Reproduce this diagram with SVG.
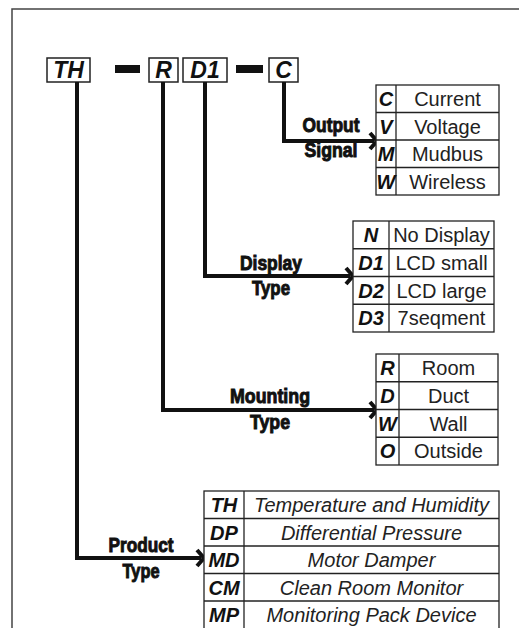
<svg xmlns="http://www.w3.org/2000/svg" width="519" height="628" viewBox="0 0 519 628">
<defs>
<style>
.frame{fill:none;stroke:#444;stroke-width:1.5}
.hbox{fill:#fff;stroke:#222;stroke-width:1.5}
.bar{fill:#111}
.htxt{font-family:"Liberation Sans",Arial,sans-serif;font-weight:bold;font-style:italic;font-size:23px;fill:#111;text-anchor:middle}
.conn{fill:none;stroke:#111;stroke-width:4;stroke-linejoin:miter}
.head{fill:none;stroke:#111;stroke-width:4;stroke-linecap:butt}
.tbl{fill:#fff;stroke:#222;stroke-width:1.3}
.tl{stroke:#222;stroke-width:1.3}
.code{font-family:"Liberation Sans",Arial,sans-serif;font-weight:bold;font-style:italic;font-size:20px;fill:#111;text-anchor:middle}
.val{font-family:"Liberation Sans",Arial,sans-serif;font-size:20px;fill:#222;text-anchor:middle}
.vali{font-family:"Liberation Sans",Arial,sans-serif;font-style:italic;font-size:20px;fill:#222;text-anchor:middle}
.lab{font-family:"Liberation Sans Narrow","Liberation Sans",sans-serif;font-weight:bold;font-size:21px;fill:#111;stroke:#111;stroke-width:1;text-anchor:middle}
</style>
</defs>
<rect width="519" height="628" fill="#fff"/>
<path class="frame" d="M12,640 L12,9 L530,9"/>

<g id="code-header">
<rect class="hbox" x="47" y="58" width="43" height="24"/>
<text class="htxt" x="68.5" y="78">TH</text>
<rect class="bar" x="115" y="65" width="25" height="8"/>
<rect class="hbox" x="149" y="58" width="29" height="24"/>
<text class="htxt" x="163.5" y="78">R</text>
<rect class="hbox" x="183" y="58" width="44" height="24"/>
<text class="htxt" x="205" y="78">D1</text>
<rect class="bar" x="236" y="65" width="27" height="8"/>
<rect class="hbox" x="269" y="58" width="29" height="24"/>
<text class="htxt" x="283.5" y="78" font-style="normal">C</text>
</g>

<g id="connectors">
<polyline class="conn" points="284,82 284,141 374,141"/>
<polyline class="head" points="370,133 377,141 370,149"/>
<polyline class="conn" points="205,82 205,276 350,276"/>
<polyline class="head" points="346,268 353,276 346,284"/>
<polyline class="conn" points="163,82 163,410 374,410"/>
<polyline class="head" points="370,402 377,410 370,418"/>
<polyline class="conn" points="77,82 77,558 201,558"/>
<polyline class="head" points="197,550 204,558 197,566"/>
</g>

<g id="output-signal">
<text class="lab" x="331" y="132" textLength="57" lengthAdjust="spacingAndGlyphs">Output</text>
<text class="lab" x="331" y="157" textLength="53" lengthAdjust="spacingAndGlyphs">Signal</text>
<rect class="tbl" x="376" y="85" width="123" height="110"/>
<line class="tl" x1="396" y1="85" x2="396" y2="195"/>
<line class="tl" x1="376" y1="112.5" x2="499" y2="112.5"/>
<line class="tl" x1="376" y1="140" x2="499" y2="140"/>
<line class="tl" x1="376" y1="167.5" x2="499" y2="167.5"/>
<text class="code" x="386" y="106">C</text><text class="val" x="447.5" y="106">Current</text>
<text class="code" x="386" y="133.5">V</text><text class="val" x="447.5" y="133.5">Voltage</text>
<text class="code" x="386" y="161">M</text><text class="val" x="447.5" y="161">Mudbus</text>
<text class="code" x="386" y="188.5">W</text><text class="val" x="447.5" y="188.5">Wireless</text>
</g>

<g id="display-type">
<text class="lab" x="271" y="270" textLength="62" lengthAdjust="spacingAndGlyphs">Display</text>
<text class="lab" x="271" y="295" textLength="38" lengthAdjust="spacingAndGlyphs">Type</text>
<rect class="tbl" x="353" y="221" width="141" height="111"/>
<line class="tl" x1="389" y1="221" x2="389" y2="332"/>
<line class="tl" x1="353" y1="248.75" x2="494" y2="248.75"/>
<line class="tl" x1="353" y1="276.5" x2="494" y2="276.5"/>
<line class="tl" x1="353" y1="304.25" x2="494" y2="304.25"/>
<text class="code" x="371" y="242">N</text><text class="val" x="441.5" y="242">No Display</text>
<text class="code" x="371" y="270">D1</text><text class="val" x="441.5" y="270">LCD small</text>
<text class="code" x="371" y="297.5">D2</text><text class="val" x="441.5" y="297.5">LCD large</text>
<text class="code" x="371" y="325">D3</text><text class="val" x="441.5" y="325">7seqment</text>
</g>

<g id="mounting-type">
<text class="lab" x="270" y="403" textLength="80" lengthAdjust="spacingAndGlyphs">Mounting</text>
<text class="lab" x="270" y="429" textLength="40" lengthAdjust="spacingAndGlyphs">Type</text>
<rect class="tbl" x="376" y="354" width="122" height="111"/>
<line class="tl" x1="399" y1="354" x2="399" y2="465"/>
<line class="tl" x1="376" y1="381.75" x2="498" y2="381.75"/>
<line class="tl" x1="376" y1="409.5" x2="498" y2="409.5"/>
<line class="tl" x1="376" y1="437.25" x2="498" y2="437.25"/>
<text class="code" x="387.5" y="375">R</text><text class="val" x="448.5" y="375">Room</text>
<text class="code" x="387.5" y="403">D</text><text class="val" x="448.5" y="403">Duct</text>
<text class="code" x="387.5" y="430.5">W</text><text class="val" x="448.5" y="430.5">Wall</text>
<text class="code" x="387.5" y="458">O</text><text class="val" x="448.5" y="458">Outside</text>
</g>

<g id="product-type">
<text class="lab" x="141" y="552" textLength="65" lengthAdjust="spacingAndGlyphs">Product</text>
<text class="lab" x="141" y="578" textLength="37" lengthAdjust="spacingAndGlyphs">Type</text>
<rect class="tbl" x="204" y="491" width="295" height="146"/>
<line class="tl" x1="244" y1="491" x2="244" y2="637"/>
<line class="tl" x1="204" y1="518.5" x2="499" y2="518.5"/>
<line class="tl" x1="204" y1="546" x2="499" y2="546"/>
<line class="tl" x1="204" y1="573.5" x2="499" y2="573.5"/>
<line class="tl" x1="204" y1="601" x2="499" y2="601"/>
<text class="code" x="224" y="512">TH</text><text class="vali" x="371.5" y="512">Temperature and Humidity</text>
<text class="code" x="224" y="539.5">DP</text><text class="vali" x="371.5" y="539.5">Differential Pressure</text>
<text class="code" x="224" y="567">MD</text><text class="vali" x="371.5" y="567">Motor Damper</text>
<text class="code" x="224" y="594.5">CM</text><text class="vali" x="371.5" y="594.5">Clean Room Monitor</text>
<text class="code" x="224" y="622">MP</text><text class="vali" x="371.5" y="622">Monitoring Pack Device</text>
</g>
</svg>
